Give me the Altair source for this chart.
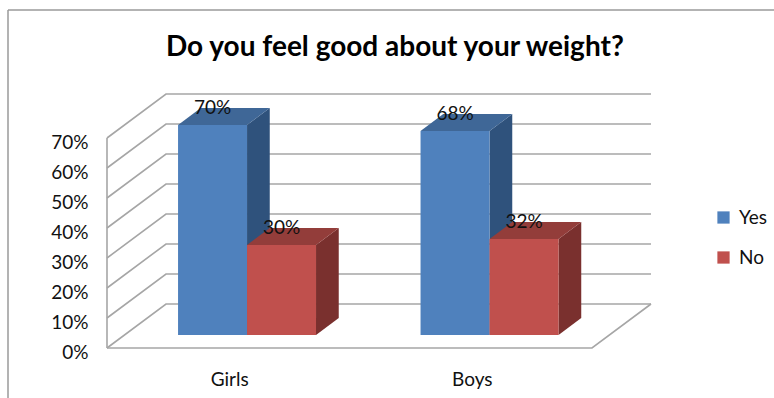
import altair as alt
import pandas as pd

# Survey results, percent of respondents
categories = ["Girls", "Boys"]
series = ["Yes", "No"]
yes_values = [70, 68]
no_values = [30, 32]
value_ticks = [0, 10, 20, 30, 40, 50, 60, 70]

front_colors = ["#4F81BD", "#C0504D"]
side_colors = ["#2F527C", "#7A302E"]
top_colors = ["#3F6797", "#933D3A"]

FONT = "Lato"
TEXT_SIZE = 19
TEXT_COLOR = "#111111"
WIDTH, HEIGHT = 774, 398

# Oblique projection: depth d (0 = front of floor, 1 = back wall) shifts a point
# right along the category axis and up along the value axis.
SHIFT_X = 0.2433   # category slots per full depth
SHIFT_Y = 14.67    # percentage points per full depth
BAR_NEAR, BAR_FAR = 0.295, 0.68
BAR_START, BAR_WIDTH = 0.2212, 0.2845


def project(u, value, depth):
    return u + depth * SHIFT_X, value + depth * SHIFT_Y


# Grid: side-wall diagonals, back-wall horizontals and the floor outline
grid = []
top_value = value_ticks[-1]
for v in value_ticks:
    x0, y0 = project(0, v, 0)
    x1, y1 = project(0, v, 1)
    x2, y2 = project(2, v, 1)
    grid += [
        {"line": f"g{v}", "order": 0, "x": x0, "y": y0},
        {"line": f"g{v}", "order": 1, "x": x1, "y": y1},
        {"line": f"g{v}", "order": 2, "x": x2, "y": y2},
    ]
for name, pts in {
    "wall": [(0, 0, 0), (0, top_value, 0)],
    "floor": [(0, 0, 0), (2, 0, 0), (2, 0, 1)],
}.items():
    for i, p in enumerate(pts):
        x, y = project(*p)
        grid.append({"line": name, "order": i, "x": x, "y": y})
grid = pd.DataFrame(grid)

# Bar faces
fronts, sides, tops, labels = [], [], [], []
for c, cat in enumerate(categories):
    for s, (name, vals) in enumerate(zip(series, [yes_values, no_values])):
        v = vals[c]
        left = c + BAR_START + s * BAR_WIDTH
        right = left + BAR_WIDTH
        lx, by = project(left, 0, BAR_NEAR)
        rx, ty = project(right, v, BAR_NEAR)
        fronts.append({"series": name, "x": lx, "x2": rx, "y": by, "y2": ty})
        labels.append({"x": (lx + rx) / 2, "y": ty, "text": f"{v}%"})
        fx, fb = project(right, 0, BAR_FAR)
        _, ft = project(right, v, BAR_FAR)
        bar = f"{cat}-{name}"
        sides += [
            {"bar": bar, "series": name, "x": rx, "y": by, "y2": ty},
            {"bar": bar, "series": name, "x": fx, "y": fb, "y2": ft},
        ]
        blx, _ = project(left, 0, BAR_FAR)
        tops += [
            {"bar": bar, "series": name, "y": ty, "x": lx, "x2": rx},
            {"bar": bar, "series": name, "y": ft, "x": blx, "x2": fx},
        ]
fronts, sides, tops, labels = map(pd.DataFrame, (fronts, sides, tops, labels))

x_scale = alt.Scale(domain=[-107 / 242.5, 667 / 242.5], nice=False, zero=False)
y_scale = alt.Scale(domain=[-50 / 3, 116], nice=False, zero=False)

# Value axis, pulled into the canvas beside the side wall
value_axis = alt.Axis(
    values=value_ticks, title=None, domain=False, ticks=False, grid=False,
    labelExpr="datum.value + '%'", offset=-88, labelPadding=0, labelOffset=4,
    labelFont=FONT, labelFontSize=TEXT_SIZE, labelColor=TEXT_COLOR,
)
x_enc = alt.X("x:Q", scale=x_scale, axis=None)
y_enc = alt.Y("y:Q", scale=y_scale, axis=value_axis)

grid_layer = alt.Chart(grid).mark_line(color="#A6A6A6", strokeWidth=1.6).encode(
    x=x_enc, y=y_enc, detail="line:N", order="order:Q"
)

side_layer = alt.Chart(sides).mark_area(opacity=1).encode(
    x=x_enc, y=y_enc, y2="y2:Q", detail="bar:N",
    color=alt.Color("series:N", scale=alt.Scale(domain=series, range=side_colors), legend=None),
)

top_layer = alt.Chart(tops).mark_area(opacity=1, orient="horizontal").encode(
    y=y_enc, x=x_enc, x2="x2:Q", detail="bar:N",
    color=alt.Color("series:N", scale=alt.Scale(domain=series, range=top_colors), legend=None),
)

front_layer = alt.Chart(fronts).mark_rect().encode(
    x=x_enc, x2="x2:Q", y=y_enc, y2="y2:Q",
    color=alt.Color(
        "series:N",
        scale=alt.Scale(domain=series, range=front_colors),
        legend=alt.Legend(
            title=None, orient="none", legendX=714, legendY=208,
            symbolType="square", symbolSize=150, symbolStrokeWidth=0,
            labelFont=FONT, labelFontSize=TEXT_SIZE, labelColor=TEXT_COLOR,
            rowPadding=20, labelOffset=6, symbolOpacity=1,
        ),
    ),
)

label_layer = alt.Chart(labels).mark_text(
    font=FONT, fontSize=TEXT_SIZE, color=TEXT_COLOR, baseline="middle", dy=-17.5
).encode(x=x_enc, y=y_enc, text="text:N")

# Category names under the floor
cat_labels = pd.DataFrame({"x": [i + 0.5 for i in range(len(categories))], "y": [-10.6] * 2, "text": categories})
cat_layer = alt.Chart(cat_labels).mark_text(
    font=FONT, fontSize=TEXT_SIZE, color=TEXT_COLOR, baseline="middle", dx=1.5
).encode(x=x_enc, y=y_enc, text="text:N")

# Outer frame: only the top and left edges show
frame_top = alt.Chart().mark_rule(color="#9A9A9A", strokeWidth=1.5).encode(
    x=alt.value(8), x2=alt.value(WIDTH), y=alt.value(10)
)
frame_left = alt.Chart().mark_rule(color="#9A9A9A", strokeWidth=1.5).encode(
    x=alt.value(8), y=alt.value(10), y2=alt.value(HEIGHT)
)

chart = (
    alt.layer(frame_top, frame_left, grid_layer, side_layer, top_layer, front_layer, label_layer, cat_layer)
    .resolve_scale(color="independent")
    .properties(
        width=WIDTH,
        height=HEIGHT,
        padding=0,
        background="#FFFFFF",
        autosize=alt.AutoSizeParams(type="none"),
        title=alt.TitleParams(
            "Do you feel good about your weight?",
            font=FONT, fontSize=28, fontWeight="bold", color="#000000",
            anchor="start", offset=-62, dx=166,
        ),
    )
    .configure_view(stroke=None)
)

chart.save("out.html", embed_options={"renderer": "svg", "actions": False})
